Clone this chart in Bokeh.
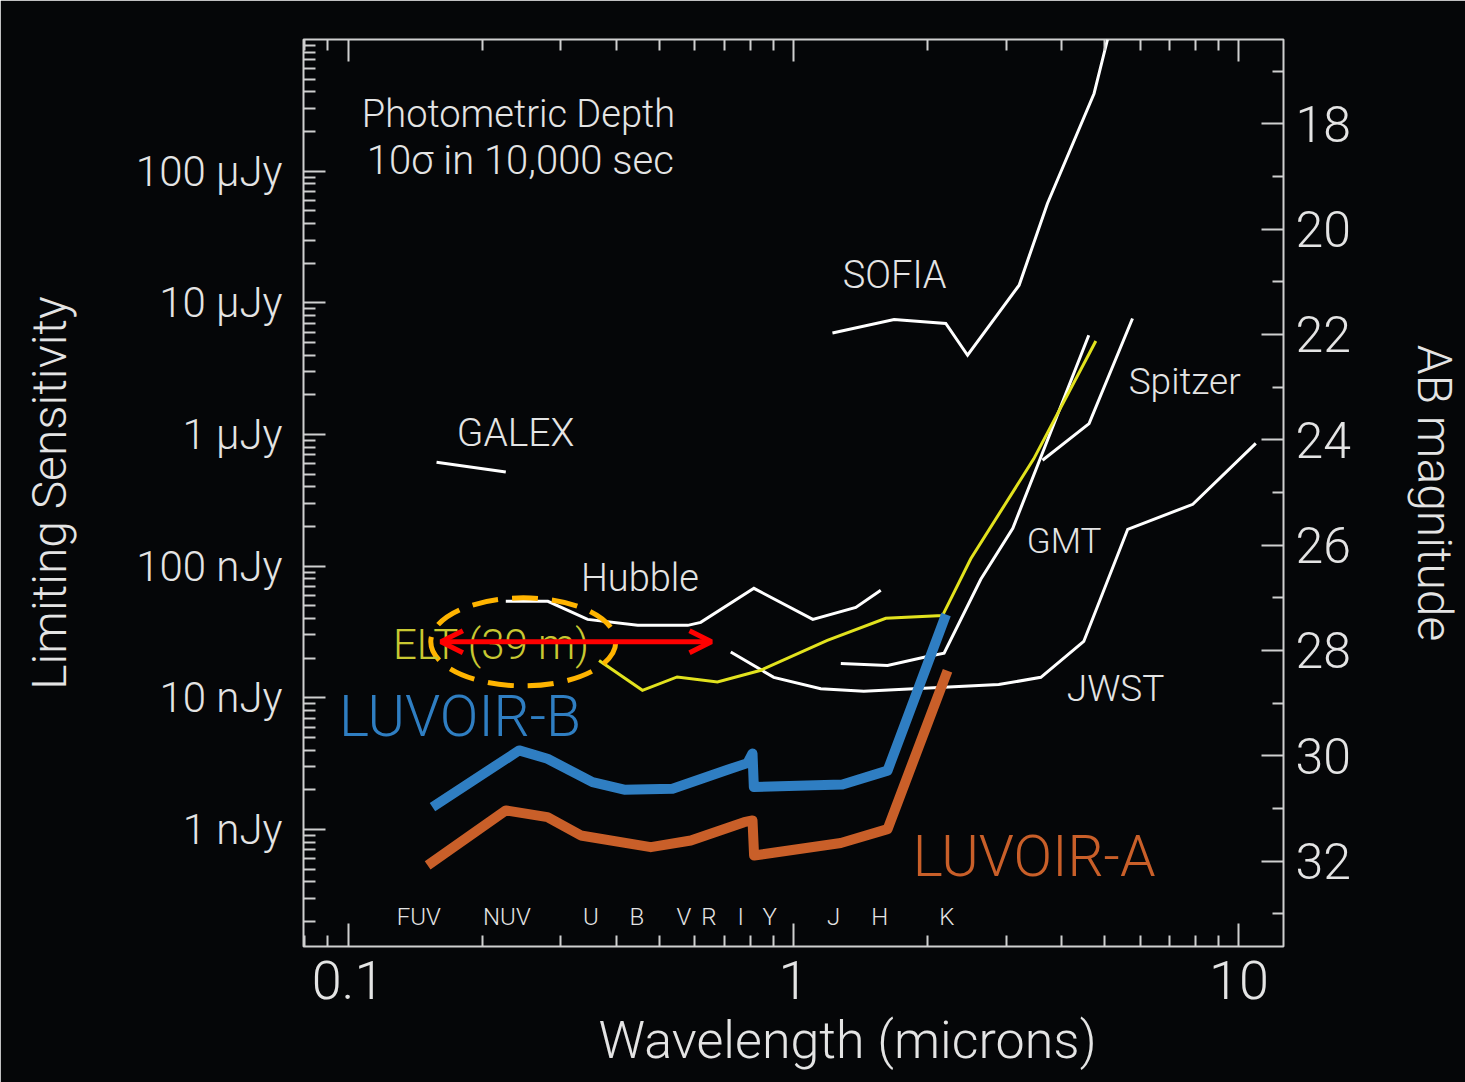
import numpy as np
from bokeh.plotting import figure
from bokeh.models import (LogAxis, LinearAxis, Range1d, LinearScale, FixedTicker, Label,
                          Arrow, OpenHead, ColumnDataSource, Title)
from bokeh.core.properties import value
from bokeh.embed import file_html
from bokeh.resources import INLINE

# ---------------- data (wavelength in microns, flux in nJy) ----------------
galex_wl = [0.158, 0.226]
galex_flux = [615, 519]

hubble_wl = [0.226, 0.281, 0.345, 0.447, 0.579, 0.619, 0.815, 1.105, 1.380, 1.570]
hubble_flux = [54.0, 54.0, 39.4, 35.5, 35.5, 37.4, 67.8, 39.4, 48.6, 65.5]

elt_wl = [0.366, 0.458, 0.548, 0.675, 0.845, 1.191, 1.611, 2.160, 2.500, 3.462, 4.772]
elt_flux = [19.2, 11.4, 14.4, 13.2, 16.2, 27.3, 40.2, 42.1, 113.8, 653, 5130]

jwst_wl = [0.723, 0.903, 1.151, 1.438, 2.889, 3.591, 4.483, 5.627, 7.877, 10.91]
jwst_flux = [22.3, 14.3, 11.7, 11.2, 12.6, 14.3, 26.8, 190.4, 295, 857]

gmt_wl = [1.277, 1.626, 1.999, 2.178, 2.633, 3.107, 4.601]
gmt_flux = [18.2, 17.6, 20.6, 21.8, 79.4, 193.8, 5675]

spitzer_wl = [3.622, 4.608, 5.768]
spitzer_flux = [637, 1210, 7600]

sofia_wl = [1.223, 1.682, 2.197, 2.459, 3.210, 3.716, 4.729, 5.069]
sofia_flux = [5904, 7464, 6966, 3999, 13600, 56880, 389000, 1.0e6]

luvoir_b_wl = [0.1547, 0.2421, 0.2804, 0.3538, 0.4168, 0.5351, 0.7110, 0.7883,
               0.8091, 0.8146, 1.288, 1.626, 2.200]
luvoir_b_flux = [1.477, 3.984, 3.445, 2.288, 2.003, 2.038, 2.842, 3.190,
                 3.781, 2.097, 2.198, 2.798, 43.0]

luvoir_a_wl = [0.1509, 0.2261, 0.2804, 0.3331, 0.4783, 0.5882, 0.7746, 0.8091,
               0.8157, 1.277, 1.626, 2.217]
luvoir_a_flux = [0.533, 1.394, 1.240, 0.900, 0.734, 0.825, 1.136, 1.171,
                 0.634, 0.790, 1.005, 16.07]

# ELT wavelength-range arrow and highlight
elt_range_wl = [0.1616, 0.6545]
elt_range_flux = 26.6
elt_mark_wl = [0.2474]
elt_mark_flux = [26.6]

# photometric bands
band_names = ["FUV", "NUV", "U", "B", "V", "R", "I", "Y", "J", "H", "K"]
band_wl = [0.1442, 0.2273, 0.3508, 0.4447, 0.5672, 0.6454, 0.7615, 0.8846, 1.231, 1.562, 2.208]
band_label_flux = 0.218

# axes
x_ticks = [0.1, 1, 10]
x_tick_labels = ["0.1", "1", "10"]
y_ticks = [1, 10, 100, 1e3, 1e4, 1e5]
y_tick_labels = ["1 nJy", "10 nJy", "100 nJy", "1 \u00b5Jy", "10 \u00b5Jy", "100 \u00b5Jy"]
mag_ticks = [18, 20, 22, 24, 26, 28, 30, 32]
mag_minor = [17, 19, 21, 23, 25, 27, 29, 31, 33]
AB_ZP = 31.4          # AB magnitude of 1 nJy
x_lo, x_hi = 10 ** -1.1, 10 ** 1.1
y_lo, y_hi = 10 ** -0.889, 1e6

x_title = "Wavelength (microns)"
y_title = "Limiting Sensitivity"
mag_title = "AB magnitude"

def log_minor(lo_exp, hi_exp):
    return [k * 10.0 ** e for e in range(lo_exp, hi_exp) for k in range(2, 10)]

# ---------------- style ----------------
BG = "#050608"
FG = "#e4e4e4"
AX = "#cfcfcf"
FONT = "'Roboto Light', 'Lato Light', Roboto, sans-serif"

p = figure(width=1465, height=1082, x_axis_type="log", y_axis_type="log",
           x_range=(x_lo, x_hi), y_range=(y_lo, y_hi),
           output_backend="svg", toolbar_location=None,
           background_fill_color=BG, border_fill_color=BG,
           outline_line_color=AX, outline_line_width=2,
           min_border_left=303, min_border_right=181,
           min_border_top=39, min_border_bottom=136)
p.grid.visible = False
p.extra_y_ranges = {"mag": Range1d(start=AB_ZP - 2.5 * np.log10(y_lo),
                                   end=AB_ZP - 2.5 * np.log10(y_hi))}
p.extra_y_scales = {"mag": LinearScale()}

def style_axis(ax, maj, mnr, size, standoff):
    ax.axis_line_color = None
    ax.major_tick_line_color = AX
    ax.minor_tick_line_color = AX
    ax.major_tick_line_width = 2
    ax.minor_tick_line_width = 2
    ax.major_tick_in = maj
    ax.major_tick_out = 0
    ax.minor_tick_in = mnr
    ax.minor_tick_out = 0
    ax.major_label_text_color = FG
    ax.major_label_text_font = FONT
    ax.major_label_text_font_size = size
    ax.major_label_standoff = standoff
    ax.axis_label_text_color = FG
    ax.axis_label_text_font = FONT
    ax.axis_label_text_font_style = "normal"

xtick = FixedTicker(ticks=x_ticks, minor_ticks=log_minor(-2, 2))
ytick = FixedTicker(ticks=y_ticks, minor_ticks=log_minor(-1, 6))

xb = p.xaxis[0]
xb.ticker = xtick
xb.major_label_overrides = dict(zip(x_ticks, x_tick_labels))
style_axis(xb, 23, 11, "54px", 14)

yl = p.yaxis[0]
yl.ticker = ytick
yl.major_label_overrides = dict(zip(y_ticks, y_tick_labels))
style_axis(yl, 22, 12, "42px", 21)
yl.axis_label = y_title
yl.axis_label_text_font_size = "48px"
yl.axis_label_standoff = 55

xt = LogAxis(ticker=xtick)
style_axis(xt, 22, 11, "1px", 0)
xt.major_label_text_color = None
p.add_layout(xt, "above")

yr = LinearAxis(y_range_name="mag", ticker=FixedTicker(ticks=mag_ticks, minor_ticks=mag_minor))
style_axis(yr, 22, 11, "50px", 12)
yr.axis_label = mag_title
yr.axis_label_text_font_size = "48px"
yr.axis_label_standoff = 52
p.add_layout(yr, "right")

# x-axis title (off-centre like the original) as a panel title below the axis
p.add_layout(Title(text=x_title, align="left", offset=295, standoff=12,
                   text_font=FONT, text_font_size="52px", text_font_style="normal",
                   text_color=FG), "below")

# ---------------- curves ----------------
white_kw = dict(line_color="white", line_width=3, line_join="miter")
p.line(galex_wl, galex_flux, **white_kw)
p.line(hubble_wl, hubble_flux, **white_kw)
p.line(jwst_wl, jwst_flux, **white_kw)
p.line(gmt_wl, gmt_flux, **white_kw)
p.line(spitzer_wl, spitzer_flux, **white_kw)
p.line(sofia_wl, sofia_flux, **white_kw)
p.line(elt_wl, elt_flux, line_color="#e2e21e", line_width=3, line_join="miter")
p.line(luvoir_b_wl, luvoir_b_flux, line_color="#2f7ec2", line_width=10, line_join="round")
p.line(luvoir_a_wl, luvoir_a_flux, line_color="#c95f29", line_width=10, line_join="round")

# ---------------- labels ----------------
def lab(x, y, text, size, color=FG, align="left"):
    p.add_layout(Label(x=x, y=y, text=text, text_font=FONT, text_font_size=size,
                       text_color=color, text_baseline="middle", text_align=align))

lab(0.1074, 271000, "Photometric Depth", "38px")
lab(0.1102, 121300, "10\u03c3 in 10,000 sec", "40px")
lab(1.290, 16200, "SOFIA", "38px")
lab(0.1754, 1021, "GALEX", "39px")
lab(0.3332, 80.8, "Hubble", "38px")
lab(5.656, 2537, "Spitzer", "37px")
lab(3.340, 154.3, "GMT", "35px")
lab(4.107, 11.79, "JWST", "37px")
lab(0.1261, 25.5, "ELT (39 m)", "42px", color="#c8c832")
lab(0.0954, 7.22, "LUVOIR-B", "57px", color="#2f7ec2")
lab(1.852, 0.6235, "LUVOIR-A", "57px", color="#c95f29")

band_src = ColumnDataSource(dict(x=band_wl, y=[band_label_flux] * len(band_wl), t=band_names))
p.text(x="x", y="y", text="t", source=band_src, text_font=value(FONT),
       text_font_size="24px", text_color=FG, text_align="center", text_baseline="middle")

# ---------------- ELT highlight ----------------
p.ellipse(x=elt_mark_wl, y=elt_mark_flux, width=185, height=88,
          width_units="screen", height_units="screen",
          fill_color=None, line_color="#ffb400", line_width=5, line_dash="26 14")
p.add_layout(Arrow(start=OpenHead(size=22, line_color="#ff0000", line_width=5),
                   end=OpenHead(size=22, line_color="#ff0000", line_width=5),
                   x_start=elt_range_wl[0], y_start=elt_range_flux,
                   x_end=elt_range_wl[1], y_end=elt_range_flux,
                   line_color="#ff0000", line_width=5))

open("out.html", "w").write(file_html(p, INLINE))
